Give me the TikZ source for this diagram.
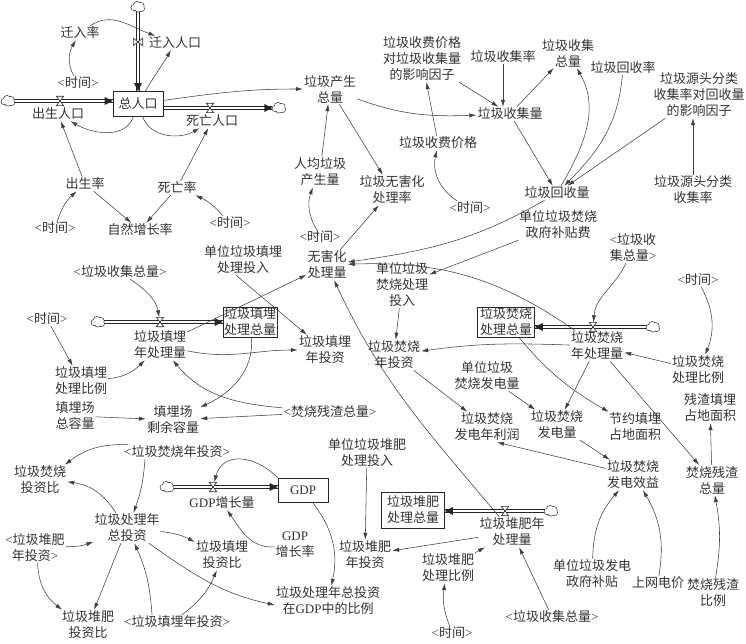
\documentclass[tikz,border=0pt]{standalone}
\usepackage{fontspec}
\setmainfont{Noto Sans CJK SC}
\newfontfamily\latf{Liberation Serif}
\usetikzlibrary{arrows.meta}
\newcommand\shd[1]{{\latf<}#1{\latf>}}
\newcommand\fsz{\fontsize{13}{16}\selectfont}
% pipe macros: two thin parallel strokes and a solid arrow tip
\newcommand\pipeH[2]{\draw[pipeedge] ([yshift=1.3pt]#1) -- ([yshift=1.3pt]#2);\draw[pipeedge] ([yshift=-1.3pt]#1) -- ([yshift=-1.3pt]#2);}
\newcommand\pipeV[2]{\draw[pipeedge] ([xshift=1.3pt]#1) -- ([xshift=1.3pt]#2);\draw[pipeedge] ([xshift=-1.3pt]#1) -- ([xshift=-1.3pt]#2);}
\newcommand\pipeR[2]{\pipeH{#1}{#2}\fill[pipetip] (#2) -- ++(-8,4) -- ++(0,-8) -- cycle;}
\newcommand\pipeL[2]{\pipeH{#1}{#2}\fill[pipetip] (#2) -- ++(8,4) -- ++(0,-8) -- cycle;}
\newcommand\pipeD[2]{\pipeV{#1}{#2}\fill[pipetip] (#2) -- ++(-4,8) -- ++(8,0) -- cycle;}
\begin{document}
\begin{tikzpicture}[x=1pt,y=1pt,
  lbl/.style={align=center,inner sep=1pt,font=\fsz,text=black!80},
  stock/.style={draw=black!85,line width=0.6pt,fill=white,align=center,inner sep=1pt,font=\fsz,text=black!80},
  cld/.style={rectangle,inner sep=0pt,minimum width=13pt,minimum height=10pt},
  vlvh/.style={inner sep=0pt,minimum width=7pt,minimum height=9pt},
  vlvv/.style={inner sep=0pt,minimum width=9pt,minimum height=7pt},
  vdraw/.style={draw=black!85,fill=white,line width=0.6pt,line join=miter},
  arr/.style={draw=black!75,line width=0.55pt,-{Latex[length=7pt,width=4.2pt]}},
  pipeedge/.style={draw=black!85,line width=0.7pt},
  pipetip/.style={fill=black!85},
]
\useasboundingbox (0,0) rectangle (746,-644);

% ---------- population ----------
\node[stock,minimum width=50pt,minimum height=25pt] (pop) at (138,-104) {总人口};
\node[cld] (cloudT) at (138,-7) {};
\node[cld] (cloudL) at (8,-101) {};
\node[cld] (cloudR) at (279,-108) {};
\node[vlvv] (vIn) at (138,-42) {};
\node[vlvh] (vBirth) at (60,-101) {};
\node[vlvh] (vDeath) at (210,-108) {};
\node[lbl] (lIn) at (175,-43) {迁入人口};
\node[lbl] (lBirth) at (58,-114) {出生人口};
\node[lbl] (lDeath) at (212,-121) {死亡人口};
\node[lbl] (rIn) at (80,-33) {迁入率};
\node[lbl] (t1) at (78,-83) {\shd{时间}};
\node[lbl] (rBirth) at (85,-184) {出生率};
\node[lbl] (rDeath) at (177,-188) {死亡率};
\node[lbl] (t2) at (55,-228) {\shd{时间}};
\node[lbl] (growth) at (140,-230) {自然增长率};
\node[lbl] (t3) at (230,-223) {\shd{时间}};

% ---------- generation / collection ----------
\node[lbl] (gen) at (330,-89) {垃圾产生\\总量};
\node[lbl] (percap) at (320,-172) {人均垃圾\\产生量};
\node[lbl] (t4) at (320,-237) {\shd{时间}};
\node[lbl] (harmRate) at (392,-190) {垃圾无害化\\处理率};
\node[lbl] (harm) at (327,-265) {无害化\\处理量};
\node[lbl] (feeFac) at (422,-59) {垃圾收费价格\\对垃圾收集量\\的影响因子};
\node[lbl] (fee) at (438,-143) {垃圾收费价格};
\node[lbl] (t5) at (470,-208) {\shd{时间}};
\node[lbl] (collRate) at (503,-57) {垃圾收集率};
\node[lbl] (coll) at (510,-114) {垃圾收集量};
\node[lbl] (collTot) at (568,-53) {垃圾收集\\总量};
\node[lbl] (recRate) at (623,-68) {垃圾回收率};
\node[lbl] (srcFac) at (699,-95) {垃圾源头分类\\收集率对回收量\\的影响因子};
\node[lbl] (rec) at (557,-193) {垃圾回收量};
\node[lbl] (src) at (693,-190) {垃圾源头分类\\收集率};
\node[lbl] (incSub) at (558,-225) {单位垃圾焚烧\\政府补贴费};

% ---------- landfill ----------
\node[lbl] (lfT) at (243,-260) {单位垃圾填埋\\处理投入};
\node[lbl] (colT1) at (120,-272) {\shd{垃圾收集总量}};
\node[lbl] (t6) at (47,-319) {\shd{时间}};
\node[cld] (cloudLf) at (98,-322) {};
\node[vlvh] (vLf) at (160,-322) {};
\node[stock,minimum width=53pt,minimum height=29pt] (lfStock) at (250,-322) {垃圾填埋\\处理总量};
\node[lbl] (lfFlow) at (160,-345) {垃圾填埋\\年处理量};
\node[lbl] (lfRatio) at (81,-381) {垃圾填埋\\处理比例};
\node[lbl] (lfInv) at (325,-350) {垃圾填埋\\年投资};
\node[lbl] (lfCap) at (75,-416) {填埋场\\总容量};
\node[lbl] (lfRem) at (173,-420) {填埋场\\剩余容量};
\node[lbl] (ash1) at (330,-412) {\shd{焚烧残渣总量}};

% ---------- incineration ----------
\node[lbl] (incT) at (402,-285) {单位垃圾\\焚烧处理\\投入};
\node[lbl] (colT2) at (633,-248) {\shd{垃圾收\\集总量}};
\node[lbl] (t7) at (698,-280) {\shd{时间}};
\node[stock,minimum width=57pt,minimum height=29pt] (incStock) at (506,-322) {垃圾焚烧\\处理总量};
\node[cld] (cloudInc) at (653,-327) {};
\node[vlvh] (vInc) at (593,-327) {};
\node[lbl] (incFlow) at (597,-346) {垃圾焚烧\\年处理量};
\node[lbl] (incRatio) at (698,-370) {垃圾焚烧\\处理比例};
\node[lbl] (incInv) at (394,-355) {垃圾焚烧\\年投资};
\node[lbl] (incPowU) at (487,-376) {单位垃圾\\焚烧发电量};
\node[lbl] (incProfit) at (487,-427) {垃圾焚烧\\发电年利润};
\node[lbl] (incPow) at (557,-425) {垃圾焚烧\\发电量};
\node[lbl] (save) at (635,-427) {节约填埋\\占地面积};
\node[lbl] (ashLand) at (710,-408) {残渣填埋\\占地面积};
\node[lbl] (ashTot) at (712,-480) {焚烧残渣\\总量};
\node[lbl] (benefit) at (633,-475) {垃圾焚烧\\发电效益};
\node[lbl] (powSub) at (592,-574) {单位垃圾发电\\政府补贴};
\node[lbl] (price) at (658,-583) {上网电价};
\node[lbl] (ashRatio) at (713,-593) {焚烧残渣\\比例};

% ---------- compost ----------
\node[lbl] (cmT) at (367,-453) {单位垃圾堆肥\\处理投入};
\node[stock,minimum width=63pt,minimum height=36pt] (cmStock) at (413,-510) {垃圾堆肥\\处理总量};
\node[cld] (cloudCm) at (551,-511) {};
\node[vlvh] (vCm) at (505,-511) {};
\node[lbl] (cmFlow) at (512,-532) {垃圾堆肥年\\处理量};
\node[lbl] (cmInv) at (365,-555) {垃圾堆肥\\年投资};
\node[lbl] (cmRatio) at (448,-568) {垃圾堆肥\\处理比例};
\node[lbl] (t8) at (452,-633) {\shd{时间}};
\node[lbl] (colT3) at (552,-617) {\shd{垃圾收集总量}};

% ---------- investment / GDP ----------
\node[lbl] (incInvS) at (177,-452) {\shd{垃圾焚烧年投资}};
\node[lbl] (incShare) at (40,-480) {垃圾焚烧\\投资比};
\node[cld] (cloudG) at (167,-487) {};
\node[vlvh] (vG) at (213,-487) {};
\node[lbl] (gdpFlowL) at (222,-503) {{\latf GDP}增长量};
\node[stock,minimum width=50pt,minimum height=24pt] (gdp) at (303,-490) {\latf GDP};
\node[lbl] (gdpRate) at (295,-545) {{\latf GDP}\\增长率};
\node[lbl] (totInv) at (127,-528) {垃圾处理年\\总投资};
\node[lbl] (cmInvS) at (35,-548) {{\latf<}垃圾堆肥\\年投资{\latf>}};
\node[lbl] (lfShare) at (222,-555) {垃圾填埋\\投资比};
\node[lbl] (cmShare) at (88,-625) {垃圾堆肥\\投资比};
\node[lbl] (lfInvS) at (177,-622) {\shd{垃圾填埋年投资}};
\node[lbl] (ratioGDP) at (328,-601) {垃圾处理年总投资\\在{\latf GDP}中的比例};

% ---------- pipes ----------
\pipeD{cloudT.center}{pop.north}
\pipeR{cloudL.center}{cloudL.center -| pop.west}
\pipeR{pop.east |- cloudR.center}{cloudR.west}
\pipeR{cloudLf.center}{cloudLf.center -| lfStock.west}
\pipeL{cloudInc.center}{cloudInc.center -| incStock.east}
\pipeL{cloudCm.center}{cloudCm.center -| cmStock.east}
\pipeR{cloudG.center}{cloudG.center -| gdp.west}
\foreach \v in {vBirth,vDeath,vLf,vInc,vCm,vG}
  \draw[vdraw] (\v.north west)--(\v.north east)--(\v.south west)--(\v.south east)--cycle;
\draw[vdraw] (vIn.north west)--(vIn.south west)--(vIn.north east)--(vIn.south east)--cycle;
% clouds
\foreach \cn in {cloudT,cloudL,cloudR,cloudLf,cloudInc,cloudCm,cloudG}{
  \foreach \dx/\dy/\r in {-3.8/-0.5/2.8,-1/2/3.2,2.8/1.2/3,3.6/-1.6/2.6,0/-2/2.8}
    \draw[black!85,line width=1.2pt] ([shift={(\dx,\dy)}]\cn.center) circle[radius=\r];
  \foreach \dx/\dy/\r in {-3.8/-0.5/2.8,-1/2/3.2,2.8/1.2/3,3.6/-1.6/2.6,0/-2/2.8}
    \fill[white] ([shift={(\dx,\dy)}]\cn.center) circle[radius=\r];
}

% ---------- links: population ----------
\draw[arr] (rIn) to[out=35,in=160] (lIn);
\draw[arr] (t1) to[out=120,in=-120] (rIn);
\draw[arr] (pop) to[out=60,in=-120] (lIn);
\draw[arr] (pop) to[out=-110,in=-30] (lBirth);
\draw[arr] (pop) to[out=-70,in=-150] (lDeath);
\draw[arr] (rBirth) -- (lBirth);
\draw[arr] (rDeath) -- (lDeath);
\draw[arr] (pop) to[out=8,in=180] (gen);
\draw[arr] (t2) to[bend left=15] (rBirth);
\draw[arr] (rBirth) -- (growth);
\draw[arr] (rDeath) -- (growth);
\draw[arr] (t3) to[bend right=12] (rDeath);

% ---------- links: generation / collection ----------
\draw[arr] (percap) -- (gen);
\draw[arr] (t4) to[bend left=25] (percap);
\draw[arr] (gen) to[out=-20,in=182] (coll);
\draw[arr] (gen) -- (harmRate);
\draw[arr] (harm) -- (harmRate);
\draw[arr] (fee) -- (feeFac);
\draw[arr] (t5) to[bend left=35] (fee);
\draw[arr] (feeFac) -- (coll);
\draw[arr] (collRate) -- (collRate |- coll.north);
\draw[arr] (coll) -- (collTot);
\draw[arr] (coll) -- (rec);
\draw[arr] (rec) to[out=60,in=-60] (collTot);
\draw[arr] (recRate) to[out=-95,in=45] (rec);
\draw[arr] (srcFac) -- (rec);
\draw[arr] (src) -- (src |- srcFac.south);
\draw[arr] (rec) to[out=-150,in=8] (harm);
\draw[arr] (incFlow) to[out=145,in=2] (harm);
\draw[arr] (lfFlow) -- (harm);
\draw[arr] (cmFlow) to[out=130,in=-65] (harm);

% ---------- links: landfill ----------
\draw[arr] ([xshift=-7pt]lfT.south) -- (lfInv);
\draw[arr] (colT1) to[out=-35,in=100] (vLf);
\draw[arr] (t6) -- (lfRatio);
\draw[arr] (lfRatio) to[out=5,in=-135] (lfFlow);
\draw[arr] (lfFlow) to[out=-12,in=180] (lfInv);
\draw[arr] (lfStock) to[out=-85,in=25] (lfRem);
\draw[arr] (ash1) to[out=175,in=-50] (lfFlow);
\draw[arr] (ash1) -- (lfRem);
\draw[arr] (lfCap) -- (lfRem);

% ---------- links: incineration ----------
\draw[arr] (incSub) -- (incT);
\draw[arr] (incT) -- (incInv);
\draw[arr] (colT2) to[out=-115,in=85] (vInc);
\draw[arr] (t7) to[bend left=25] (incRatio);
\draw[arr] (incRatio) -- (incFlow);
\draw[arr] (incFlow) to[out=178,in=8] (incInv);
\draw[arr] (incFlow) -- (incPow);
\draw[arr] (incStock) to[out=-50,in=150] (save);
\draw[arr] (incFlow) -- (ashTot);
\draw[arr] (incInv) -- (incProfit);
\draw[arr] (incPowU) -- (incPow);
\draw[arr] (incPow) -- (benefit);
\draw[arr] (benefit) -- ([xshift=10pt]incProfit.south);
\draw[arr] (ashTot) -- (ashLand);
\draw[arr] (ashRatio) to[bend right=10] (ashTot);
\draw[arr] (powSub) to[bend left=20] (benefit);
\draw[arr] (price) to[bend right=20] (benefit);

% ---------- links: compost ----------
\draw[arr] (cmT) -- (cmInv);
\draw[arr] (cmFlow) -- (cmInv);
\draw[arr] (cmRatio) -- (cmFlow);
\draw[arr] (t8) to[bend left=15] (cmRatio);
\draw[arr] (colT3) -- (cmFlow);

% ---------- links: investment ----------
\draw[arr] (incInvS) to[bend right=20] (incShare);
\draw[arr] ([xshift=-32pt]incInvS.south) to[bend left=8] (totInv);
\draw[arr] (totInv) to[bend right=25] (incShare);
\draw[arr] (cmInvS) to[bend right=10] (totInv);
\draw[arr] (totInv) to[bend left=10] (lfShare);
\draw[arr] (totInv) -- (cmShare);
\draw[arr] (cmInvS) to[bend right=25] (cmShare);
\draw[arr] ([xshift=-25pt]lfInvS.north) to[bend right=10] (totInv);
\draw[arr] ([xshift=5pt]lfInvS.north) to[bend right=15] (lfShare);
\draw[arr] (totInv) to[out=-35,in=168] ([yshift=-4pt]ratioGDP.west);
\draw[arr] (gdp) to[bend left=25] (ratioGDP);
\draw[arr] (gdp.north west) to[out=135,in=75,looseness=1.3] (vG);
\draw[arr] (gdpRate) to[out=185,in=-55] (gdpFlowL);
\end{tikzpicture}
\end{document}
